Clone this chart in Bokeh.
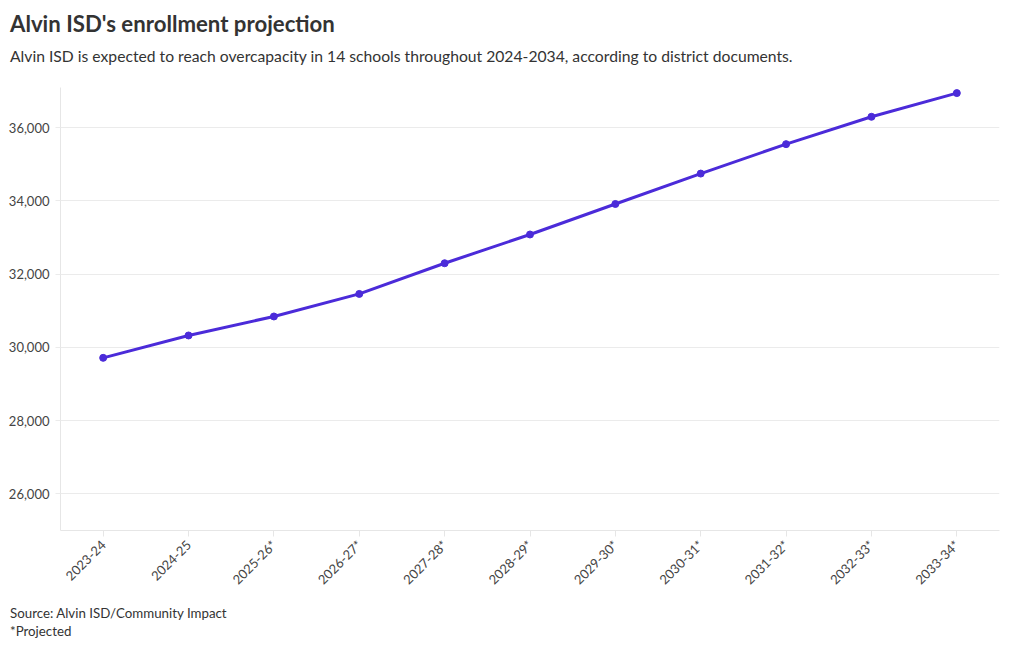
import math
from bokeh.plotting import figure
from bokeh.models import Div, FixedTicker, NumeralTickFormatter, ColumnDataSource
from bokeh.layouts import column
from bokeh.embed import file_html
from bokeh.resources import INLINE

years = ["2023-24", "2024-25", "2025-26*", "2026-27*", "2027-28*", "2028-29*",
         "2029-30*", "2030-31*", "2031-32*", "2032-33*", "2033-34*"]
enrollment = [29716, 30327, 30846, 31462, 32300, 33085, 33918, 34749, 35553, 36300, 36947]
y_ticks = [26000, 28000, 30000, 32000, 34000, 36000]

title_text = "Alvin ISD's enrollment projection"
subtitle_text = ("Alvin ISD is expected to reach overcapacity in 14 schools throughout "
                 "2024-2034, according to district documents.")
source_text = "Source: Alvin ISD/Community Impact"
note_text = "*Projected"

FONT = "Lato"
W = 1012
LINE = "#4b2bd9"

title = Div(text=title_text, width=W, height=38,
            styles={"font-family": FONT, "font-size": "22.2px", "font-weight": "bold",
                    "color": "#333333", "padding-top": "8px", "padding-left": "10px",
                    "margin": "0"})
subtitle = Div(text=subtitle_text, width=W, height=30,
               styles={"font-family": FONT, "font-size": "15.7px", "color": "#333333",
                       "padding-top": "7px", "padding-left": "10px", "margin": "0"})

src = ColumnDataSource(dict(x=years, y=enrollment))

p = figure(x_range=years, y_range=(25000, 37100), width=W, height=530,
           output_backend="svg", toolbar_location=None,
           min_border_left=60, min_border_right=13, min_border_top=19, min_border_bottom=68)
p.outline_line_color = None
p.background_fill_color = "white"

p.line("x", "y", source=src, line_color=LINE, line_width=3)
p.scatter("x", "y", source=src, size=7, fill_color=LINE, line_color=LINE)

p.xgrid.grid_line_color = None
p.ygrid.grid_line_color = "#ebebeb"
p.ygrid.grid_line_width = 1

p.yaxis.ticker = FixedTicker(ticks=y_ticks)
p.yaxis.formatter = NumeralTickFormatter(format="0,0")
p.yaxis.axis_line_color = "#e6e6e6"
p.yaxis.major_tick_line_color = "#ebebeb"
p.yaxis.major_tick_out = 5
p.yaxis.major_tick_in = 0
p.yaxis.minor_tick_line_color = None
p.yaxis.major_label_standoff = 6
p.yaxis.major_label_text_font = FONT
p.yaxis.major_label_text_font_size = "13px"
p.yaxis.major_label_text_color = "#444444"

p.xaxis.axis_line_color = "#e6e6e6"
p.xaxis.major_tick_line_color = "#e6e6e6"
p.xaxis.major_tick_out = 6
p.xaxis.major_tick_in = 0
p.xaxis.major_label_orientation = math.pi / 4
p.xaxis.major_label_standoff = 6
p.xaxis.major_label_text_font = FONT
p.xaxis.major_label_text_font_size = "13px"
p.xaxis.major_label_text_color = "#444444"

footer = Div(text=source_text + "<br>" + note_text, width=W, height=42,
             styles={"font-family": FONT, "font-size": "13.3px", "color": "#333333",
                     "line-height": "18px", "padding-top": "6px", "padding-left": "10px",
                     "margin": "0"})

layout = column(title, subtitle, p, footer, spacing=0)
open("out.html", "w").write(file_html(layout, INLINE))
